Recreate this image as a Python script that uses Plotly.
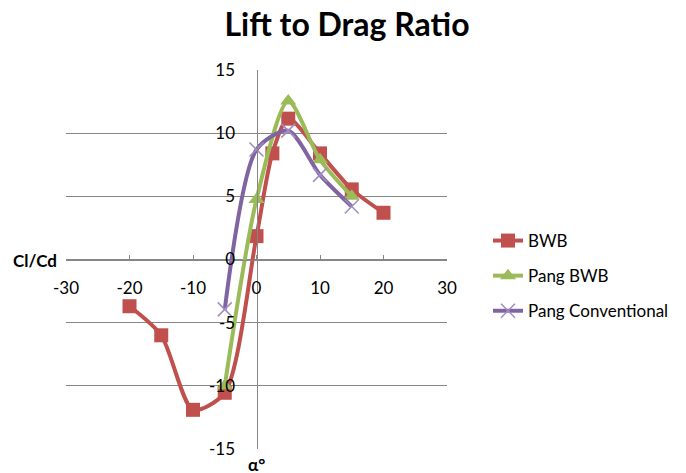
import plotly.graph_objects as go

alpha_bwb = [-20, -15, -10, -5, 0, 2.5, 5, 10, 15, 20]
ld_bwb = [-3.7, -6.0, -11.9, -10.55, 1.85, 8.4, 11.15, 8.4, 5.55, 3.7]

alpha_pang_bwb = [-5, 0, 5, 10, 15]
ld_pang_bwb = [-10.0, 4.75, 12.55, 7.9, 5.0]

alpha_pang_conv = [-5, 0, 5, 10, 15]
ld_pang_conv = [-3.95, 8.7, 10.2, 6.7, 4.2]

x_ticks = [-30, -20, -10, 0, 10, 20, 30]
x_tick_text = ["-30", "-20", "-10", "0", "10", "20", "30"]
y_ticks = [-15, -10, -5, 0, 5, 10, 15]
y_tick_text = ["-15", "-10", "-5", "0", "5", "10", "15"]

RED = "#C0504D"
GREEN = "#9BBB59"
PURPLE = "#8064A2"
FONT = "Lato, 'Open Sans', sans-serif"

OFF = 8  # page body margin
W, H = 686, 473
# plot area in reference pixels
L, R, T, B = 66, 447, 70, 449


def px_x(px):
    return (px - L) / (R - L)


def px_y(py):
    return (B - py) / (B - T)


def cx(px):
    return (px - OFF) / W


def cy(py):
    return 1 - (py - OFF) / H


SMOOTH = 0.75
fig = go.Figure()
fig.add_trace(go.Scatter(
    x=alpha_bwb, y=ld_bwb, name="BWB", mode="lines+markers",
    line=dict(color=RED, width=4, shape="spline", smoothing=SMOOTH),
    marker=dict(symbol="square", size=14, color=RED),
    legendgroup="a"))
fig.add_trace(go.Scatter(
    x=alpha_pang_bwb, y=ld_pang_bwb, name="Pang BWB", mode="lines+markers",
    line=dict(color=GREEN, width=4, shape="spline", smoothing=SMOOTH),
    marker=dict(symbol="triangle-up", size=14, color=GREEN),
    legendgroup="b"))
fig.add_trace(go.Scatter(
    x=alpha_pang_conv, y=ld_pang_conv, name="Pang Conventional", mode="lines+markers",
    line=dict(color=PURPLE, width=4, shape="spline", smoothing=SMOOTH),
    marker=dict(symbol="x-thin", size=14, color=PURPLE,
                line=dict(color="#A08CC0", width=1.5)),
    legendgroup="c"))

grid = "#868686"
fig.update_layout(
    width=W, height=H,
    margin=dict(l=L - OFF, r=W - R + OFF, t=T - OFF, b=H - B + OFF),
    paper_bgcolor="white", plot_bgcolor="white",
    font=dict(family=FONT, size=17, color="black"),
    title=dict(text="<b>Lift to Drag Ratio</b>", x=cx(347), xanchor="center",
               y=cy(25), yanchor="middle", xref="container", yref="container",
               font=dict(family=FONT, size=32, color="black")),
    xaxis=dict(range=[-30, 30], tickvals=x_ticks, ticktext=x_tick_text,
               anchor="free", position=0.5,
               showgrid=False, zeroline=False, showline=True, linecolor=grid,
               linewidth=1, ticks="inside", ticklen=5, tickcolor=grid,
               ticklabelstandoff=13, tickfont=dict(size=17, color="black")),
    yaxis=dict(range=[-15, 15], tickvals=y_ticks, ticktext=y_tick_text,
               anchor="free", position=0.5,
               showgrid=True, gridcolor=grid, gridwidth=1, zeroline=False,
               showline=True, linecolor=grid, linewidth=1, ticks="",
               ticklabelstandoff=18, tickfont=dict(size=17, color="black")),
    legend=dict(x=cx(488), xanchor="left", xref="container",
                y=cy(223), yanchor="top", yref="container",
                traceorder="grouped", tracegroupgap=10,
                font=dict(size=17, color="black"), bgcolor="rgba(0,0,0,0)"),
    annotations=[
        dict(text="<b>Cl/Cd</b>", x=px_x(35), y=px_y(260), xref="paper", yref="paper",
             showarrow=False, xanchor="center", yanchor="middle",
             font=dict(family=FONT, size=17, color="black")),
        dict(text="<b>α°</b>", x=0, y=px_y(464), xref="x", yref="paper",
             showarrow=False, xanchor="center", yanchor="middle",
             font=dict(family=FONT, size=17, color="black")),
    ],
)

fig.write_html("out.html")
